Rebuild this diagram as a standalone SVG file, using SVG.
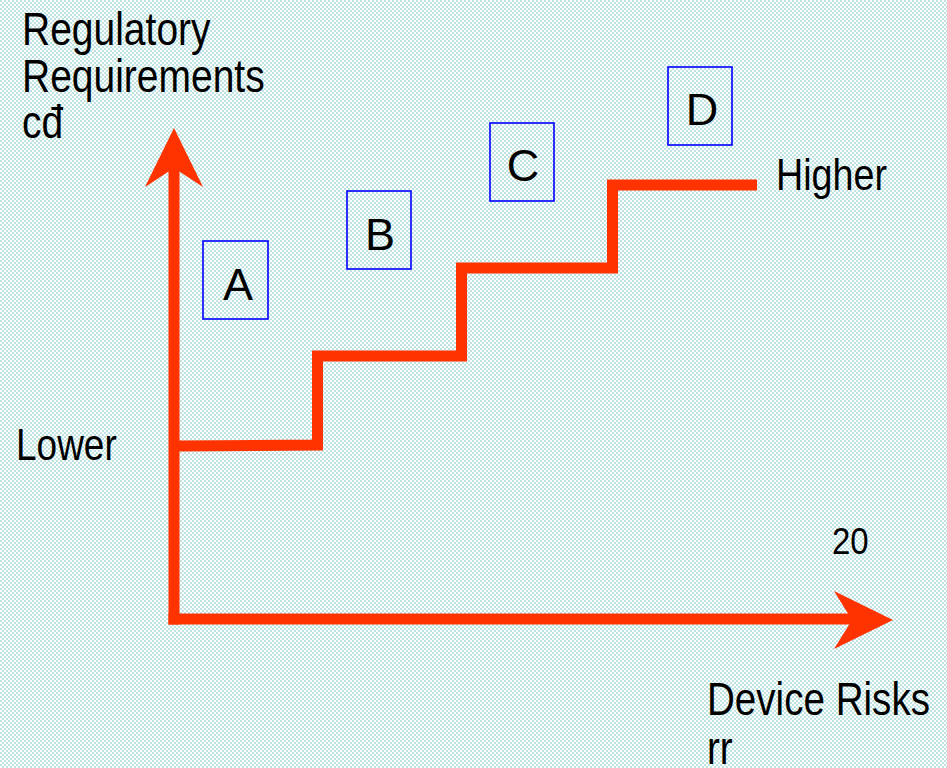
<svg xmlns="http://www.w3.org/2000/svg" width="947" height="768" viewBox="0 0 947 768">
<defs>
<pattern id="chk" width="4" height="4" patternUnits="userSpaceOnUse">
<rect width="4" height="4" fill="#ffffff"/>
<rect width="2" height="2" fill="#bfe2e2"/>
<rect x="2" y="2" width="2" height="2" fill="#bfe2e2"/>
</pattern>
<style>
.t{font-family:"Liberation Sans",Arial,sans-serif;fill:#000;}
.ax{stroke:#ff3300;stroke-width:11;fill:none;}
.head{fill:#ff3300;}
.box rect{fill:none;stroke:#0000ff;stroke-width:1.6;}
.box text{font-family:"Liberation Sans",Arial,sans-serif;font-size:45px;fill:#000;text-anchor:middle;}
</style>
</defs>
<rect width="947" height="768" fill="url(#chk)"/>

<g id="connectors">
<line class="ax" x1="174" y1="166" x2="174" y2="624.5"/>
<line class="ax" x1="168.5" y1="619" x2="854" y2="619"/>
<polygon class="head" points="174,128 203,187 174,168 145,187"/>
<polygon class="head" points="893,620 834,591 852,620 834,649"/>
<polyline class="ax" stroke-linejoin="miter" points="178,446 317.5,445 317.5,356 461.5,356 461.5,268 612.5,268 612.5,185 757,185"/>
</g>

<g id="y-label">
<text class="t" font-size="39" transform="translate(22,45) scale(1,1.18)">Regulatory</text>
<text class="t" font-size="39" transform="translate(22,92) scale(1,1.18)">Requirements</text>
<text class="t" font-size="39" transform="translate(22,138) scale(1,1.18)">cđ</text>
</g>
<g id="x-label">
<text class="t" font-size="38.6" transform="translate(707,715) scale(1,1.18)">Device Risks</text>
<text class="t" font-size="38.6" transform="translate(707,764) scale(1,1.18)">rr</text>
</g>
<g id="lower"><text class="t" font-size="37" transform="translate(16,460) scale(1,1.18)">Lower</text></g>
<g id="higher"><text class="t" font-size="37.7" transform="translate(776,190) scale(1,1.2)">Higher</text></g>
<g id="num"><text class="t" font-size="33" transform="translate(832,554) scale(1,1.1)">20</text></g>

<g id="A" class="box"><rect x="203" y="241" width="65" height="78"/><text x="238" y="300">A</text></g>
<g id="B" class="box"><rect x="347" y="191" width="64" height="78"/><text x="380" y="250">B</text></g>
<g id="C" class="box"><rect x="490" y="123" width="64" height="78"/><text x="523" y="181">C</text></g>
<g id="D" class="box"><rect x="668" y="67" width="64" height="78"/><text x="702" y="125">D</text></g>
</svg>
